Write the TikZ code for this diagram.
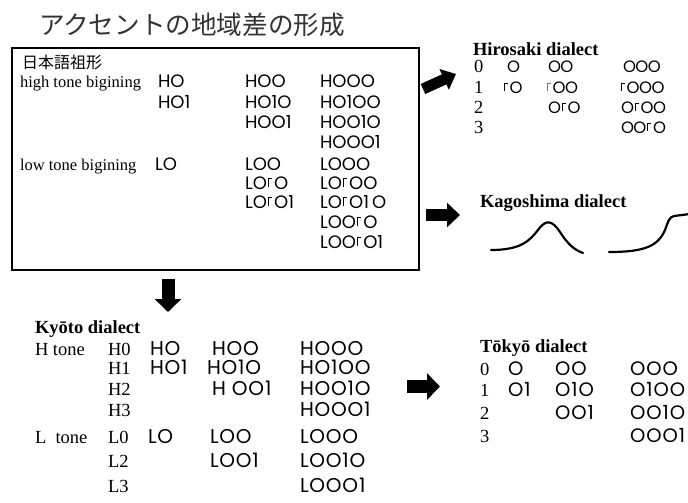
\documentclass[tikz,border=0pt]{standalone}
\usepackage{fontspec}
\setmainfont{Liberation Serif}
\newfontfamily\jpfont{Noto Sans CJK JP}
\newfontfamily\gothicBox{Poppins}
\newfontfamily\gothicHiro[LetterSpace=-3]{Poppins}
\newfontfamily\gothicKyo[LetterSpace=4]{Poppins}
\newfontfamily\gothicTok[LetterSpace=5]{Poppins}
\usetikzlibrary{arrows.meta}

% rising-pitch mark drawn as a small corner
\newcommand\upstep{\kern0.04em\raisebox{0.1em}{\rule{0.06em}{0.52em}}\kern-0.06em\raisebox{0.56em}{\rule{0.26em}{0.06em}}\kern0.1em}

\tikzset{
  every node/.style={inner sep=0pt, outer sep=0pt},
  boxtxt/.style={anchor=base west, font=\fontsize{16.5}{18}\selectfont},
  txt/.style={anchor=base west, font=\fontsize{18.5}{20}\selectfont},
  head/.style={anchor=base west, font=\fontsize{18.5}{20}\selectfont\bfseries},
  patbox/.style={anchor=base west, font=\gothicBox\fontsize{18}{20}\selectfont},
  pathiro/.style={anchor=base west, font=\gothicHiro\fontsize{16.5}{18}\selectfont},
  patkyo/.style={anchor=base west, font=\gothicKyo\fontsize{20}{22}\selectfont},
  pattok/.style={anchor=base west, font=\gothicTok\fontsize{19.5}{21}\selectfont},
  blockarrow/.style={line width=#1, -{Triangle[width=2*#1, length=13pt]}},
}

\begin{document}
\begin{tikzpicture}[x=1pt, y=-1pt]
\useasboundingbox (0,0) rectangle (688,503);

% title
\node[anchor=base west, font=\jpfont\fontsize{25.6}{28}\selectfont, text=black!80] (title) at (39,35) {アクセントの地域差の形成};

% proto-Japanese box
\node[draw, line width=1.6pt, minimum width=407pt, minimum height=222pt, anchor=north west] (proto) at (12,48) {};
\node[anchor=base west, font=\jpfont\fontsize{16}{18}\selectfont] (protoname) at (22,69) {日本語祖形};
\node[boxtxt] (hb) at (20,88) {high tone bigining};
\node[boxtxt] (lb) at (20,170) {low tone bigining};

\node[patbox] (ba1) at (158,88) {HO};
\node[patbox] (ba2) at (158,108) {HO1};
\node[patbox] (bb1) at (245,88) {HOO};
\node[patbox] (bb2) at (245,108) {HO1O};
\node[patbox] (bb3) at (245,128) {HOO1};
\node[patbox] (bc1) at (320,88) {HOOO};
\node[patbox] (bc2) at (320,108) {HO1OO};
\node[patbox] (bc3) at (320,128) {HOO1O};
\node[patbox] (bc4) at (320,148) {HOOO1};

\node[patbox] (la1) at (155,170) {LO};
\node[patbox] (lb1) at (245,170) {LOO};
\node[patbox] (lb2) at (245,189) {LO\upstep O};
\node[patbox] (lb3) at (245,208) {LO\upstep O1};
\node[patbox] (lc1) at (320,170) {LOOO};
\node[patbox] (lc2) at (320,189) {LO\upstep OO};
\node[patbox] (lc3) at (320,208) {LO\upstep O1\,O};
\node[patbox] (lc4) at (320,228) {LOO\upstep O};
\node[patbox] (lc5) at (320,248) {LOO\upstep O1};

% Hirosaki
\node[head] (hiro) at (473,56) {Hirosaki dialect};
\node[txt] (h0) at (474,73) {0};
\node[txt] (h1) at (474,93) {1};
\node[txt] (h2) at (474,113) {2};
\node[txt] (h3) at (474,133) {3};
\node[pathiro] (ha0) at (507,73) {O};
\node[pathiro] (ha1) at (503,93) {\upstep O};
\node[pathiro] (hb0) at (548,73) {OO};
\node[pathiro] (hb1) at (546,93) {\textcolor{black!55}{\upstep}OO};
\node[pathiro] (hb2) at (548,113) {O\upstep O};
\node[pathiro] (hc0) at (623,73) {OOO};
\node[pathiro] (hc1) at (620,93) {\upstep OOO};
\node[pathiro] (hc2) at (621,113) {O\upstep OO};
\node[pathiro] (hc3) at (621,133) {OO\upstep O};

% Kagoshima
\node[head] (kago) at (480,207) {Kagoshima dialect};
\draw[line width=2.2pt, line cap=round]
  (491,250) .. controls (522,250) and (530,240) .. (538,230)
  .. controls (546,219) and (552,220) .. (560,232)
  .. controls (567,243) and (574,250) .. (583,253);
\draw[line width=2.2pt, line cap=round]
  (609,252) .. controls (645,252) and (658,246) .. (665,230)
  .. controls (668,222) and (669,217) .. (674,216) -- (690,214);

% Kyoto
\node[head] (kyo) at (35,333) {Ky\=oto dialect};
\node[txt] (htone) at (35,355) {H tone};
\node[txt] (ltone) at (35,443) {L\ \ tone};
\node[txt] (kh0) at (108,355) {H0};
\node[txt] (kh1) at (108,374) {H1};
\node[txt] (kh2) at (108,395) {H2};
\node[txt] (kh3) at (108,416) {H3};
\node[txt] (kl0) at (108,443) {L0};
\node[txt] (kl2) at (108,467) {L2};
\node[txt] (kl3) at (108,492) {L3};

\node[patkyo] (ka0) at (150,355) {HO};
\node[patkyo] (ka1) at (150,374) {HO1};
\node[patkyo] (kb0) at (212,355) {HOO};
\node[patkyo] (kb1) at (207,374) {HO1O};
\node[patkyo] (kb2) at (212,395) {H OO1};
\node[patkyo] (kc0) at (300,355) {HOOO};
\node[patkyo] (kc1) at (300,374) {HO1OO};
\node[patkyo] (kc2) at (300,395) {HOO1O};
\node[patkyo] (kc3) at (300,416) {HOOO1};
\node[patkyo] (kd0) at (148,443) {LO};
\node[patkyo] (ke0) at (210,443) {LOO};
\node[patkyo] (ke2) at (210,467) {LOO1};
\node[patkyo] (kf0) at (300,443) {LOOO};
\node[patkyo] (kf2) at (300,467) {LOO1O};
\node[patkyo] (kf3) at (300,492) {LOOO1};

% Tokyo
\node[head] (tok) at (480,352) {T\=oky\=o dialect};
\node[txt] (t0) at (480,375) {0};
\node[txt] (t1) at (480,396) {1};
\node[txt] (t2) at (480,419) {2};
\node[txt] (t3) at (480,442) {3};
\node[pattok] (ta0) at (508,375) {O};
\node[pattok] (ta1) at (508,396) {O1};
\node[pattok] (tb0) at (555,375) {OO};
\node[pattok] (tb1) at (555,396) {O1O};
\node[pattok] (tb2) at (555,419) {OO1};
\node[pattok] (tc0) at (630,375) {OOO};
\node[pattok] (tc1) at (630,396) {O1OO};
\node[pattok] (tc2) at (630,419) {OO1O};
\node[pattok] (tc3) at (630,442) {OOO1};

% block arrows
\coordinate (a1s) at (423,89);
\coordinate (a1e) at (456,74);
\coordinate (a2s) at (426,215);
\coordinate (a2e) at (460,215);
\coordinate (a3s) at (407,386.5);
\coordinate (a3e) at (440,386.5);
\coordinate (a4s) at (168,279);
\coordinate (a4e) at (168,312);
\draw[blockarrow=11pt] (a1s) -- (a1e);
\draw[blockarrow=12pt] (a2s) -- (a2e);
\draw[blockarrow=13pt] (a3s) -- (a3e);
\draw[blockarrow=13pt] (a4s) -- (a4e);
\end{tikzpicture}
\end{document}
